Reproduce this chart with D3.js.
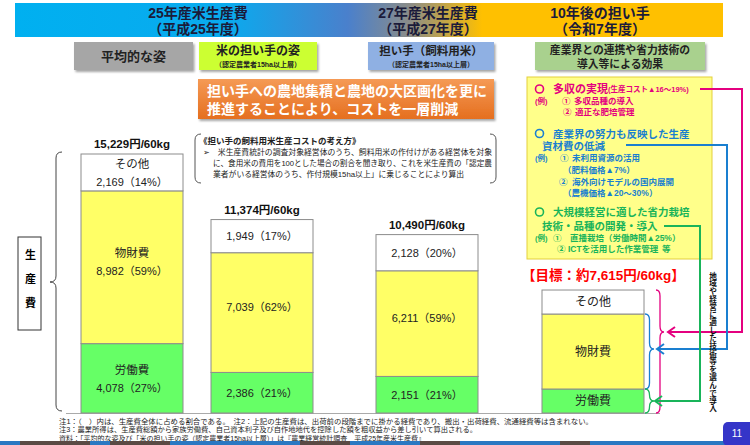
<!DOCTYPE html>
<html><head><meta charset="utf-8">
<script src="https://cdn.jsdelivr.net/npm/d3@7"></script>
<style>body{margin:0;background:#fff}svg{display:block}text{font-family:'Liberation Sans','Noto Sans CJK JP','Noto Sans CJK SC',sans-serif}</style>
</head><body><svg id="c" width="750" height="445"></svg>
<script>
// ---- data ----
const categories = ["平均的な姿", "米の担い手の姿", "担い手（飼料用米）", "10年後の担い手"];
const totals = [15229, 11374, 10490, 7615];
const laborCost = [4078, 2386, 2151, 1411];
const materialCost = [8982, 7039, 6211, 4409];
const otherCost = [2169, 1949, 2128, 1411];
const laborShare = [27, 21, 21, null];
const materialShare = [59, 62, 59, null];
const otherShare = [14, 17, 20, null];
const segmentNames = ["労働費", "物財費", "その他"];
const headerTitles = [["25年産米生産費", "（平成25年度）"], ["27年産米生産費", "（平成27年度）"], ["10年後の担い手", "（令和7年度）"]];

// ---- setup ----
const svg = d3.select("#c");
const defs = svg.append("defs");
const sh = defs.append("filter").attr("id", "sh").attr("x", "-10%").attr("y", "-20%").attr("width", "130%").attr("height", "160%");
sh.append("feDropShadow").attr("dx", 1.5).attr("dy", 2).attr("stdDeviation", 1.2).attr("flood-color", "#000").attr("flood-opacity", 0.35);
const hg = defs.append("linearGradient").attr("id", "hg").attr("x1", "0").attr("x2", "1").attr("y1", "0").attr("y2", "0");
[[0, "#00b0f0"], [0.3, "#0aaaee"], [0.47, "#4a80cc"], [0.56, "#8d8d86"], [0.66, "#ffc000"], [1, "#ffc000"]].forEach(s => hg.append("stop").attr("offset", s[0]).attr("stop-color", s[1]));
const og = defs.append("linearGradient").attr("id", "og").attr("x1", "0").attr("x2", "0").attr("y1", "0").attr("y2", "1");
og.append("stop").attr("offset", 0).attr("stop-color", "#f59a55");
og.append("stop").attr("offset", 1).attr("stop-color", "#e56f1f");

// multi-line text helper: one <text> element, one <tspan> per line/part
function block(parent, spans, attrs) {
  const t = parent.append("text").attr("dominant-baseline", "central");
  Object.entries(attrs || {}).forEach(([k, v]) => t.attr(k, v));
  spans.forEach(s => {
    const ts = t.append("tspan").attr("x", s.x).attr("y", s.y).text(s.t);
    if (s.size) ts.attr("font-size", s.size);
    if (s.fill) ts.attr("fill", s.fill);
    if (s.len) ts.attr("textLength", s.len).attr("lengthAdjust", "spacingAndGlyphs");
  });
  return t;
}

// ---- header banner ----
svg.append("rect").attr("x", 15).attr("y", 3).attr("width", 708).attr("height", 34).attr("fill", "url(#hg)");
const headerX = [198, 428, 600];
headerTitles.forEach((t, i) =>
  block(svg, t.map((s, j) => ({x: headerX[i], y: 12.5 + j * 16.5, t: s})),
    {"text-anchor": "middle", "font-size": 14, "font-weight": "bold", fill: "#1b1b3a"}));

// ---- sub header boxes ----
const subs = [
  {x: 74, w: 119, fill: "#a6a6a6", lines: [["平均的な姿", 13, 56]]},
  {x: 199, w: 118, fill: "#ccff33", lines: [["米の担い手の姿", 12, 51], ["（認定農業者15ha以上層）", 7, 64]]},
  {x: 368, w: 126, fill: "#8fb0e3", lines: [["担い手（飼料用米）", 11.5, 51], ["（認定農業者15ha以上層）", 7, 64]]},
  {x: 535, w: 170, fill: "#a9d18e", lines: [["産業界との連携や省力技術の", 10.8, 49.5], ["導入等による効果", 10.8, 63.5]]}
];
subs.forEach(b => {
  svg.append("rect").attr("x", b.x).attr("y", 42).attr("width", b.w).attr("height", 28).attr("fill", b.fill).attr("filter", "url(#sh)");
  block(svg, b.lines.map(l => ({x: b.x + b.w / 2, y: l[2], t: l[0], size: l[1]})),
    {"text-anchor": "middle", "font-weight": "bold", fill: "#222"});
});

// ---- orange message ----
svg.append("rect").attr("x", 198).attr("y", 79).attr("width", 296).attr("height", 40).attr("fill", "url(#og)").attr("filter", "url(#sh)");
block(svg, ["担い手への農地集積と農地の大区画化を更に", "推進することにより、コストを一層削減"].map((s, j) => ({x: 207, y: 91 + j * 18, t: s})),
  {"font-size": 14, "font-weight": "bold", fill: "#fff"});

// ---- note box ----
svg.append("path").attr("d", "M201,134 Q195,134 195,140 L195,177 Q195,183 201,183").attr("fill", "none").attr("stroke", "#555").attr("stroke-width", 1);
svg.append("path").attr("d", "M490,134 Q496,134 496,140 L496,177 Q496,183 490,183").attr("fill", "none").attr("stroke", "#555").attr("stroke-width", 1);
block(svg, [
  {x: 199, y: 141, t: "《担い手の飼料用米生産コストの考え方》", size: 8.5},
  {x: 203, y: 152, t: "➢　米生産費統計の調査対象経営体のうち、飼料用米の作付けがある経営体を対象", size: 7.8, len: 289},
  {x: 213, y: 163, t: "に、食用米の費用を100とした場合の割合を聞き取り、これを米生産費の「認定農", size: 7.8, len: 279},
  {x: 213, y: 174, t: "業者がいる経営体のうち、作付規模15ha以上」に乗じることにより算出", size: 7.8}
], {fill: "#222", "font-weight": "bold"}).selectAll("tspan").filter((d, i) => i > 0).attr("font-weight", "normal");

// ---- yellow effects box ----
svg.append("rect").attr("x", 527).attr("y", 77).attr("width", 185).attr("height", 182).attr("fill", "#ffff8a").attr("stroke", "#e3cf3c").attr("stroke-width", 1);
const MAG = "#e4007f", BLU = "#1a7fd0", GRN = "#19b45a";
const X0 = 535;
const effGroups = [
  {c: MAG, bulletY: 89, spans: [
    [18, 89, "多収の実現", 11], [73, 89, "(生産コスト▲16〜19%)", 7.5],
    [0, 101, "(例)", 7.5], [27, 101, "①", 8.5], [39, 101, "多収品種の導入", 8.5],
    [28, 112, "②", 8.5], [40, 112, "適正な肥培管理", 8.5]]},
  {c: BLU, bulletY: 133.5, spans: [
    [18, 133.5, "産業界の努力も反映した生産", 10.5],
    [7, 146, "資材費の低減", 10.5],
    [0, 158, "(例)", 7.5], [25, 158, "①", 8.5], [37, 158, "未利用資源の活用", 8.5],
    [28, 170, "（肥料価格▲7%）", 8.5],
    [24, 182, "②", 8.5], [37, 182, "海外向けモデルの国内展開", 8.5],
    [28, 193, "（農機価格▲20〜30%）", 8.5]]},
  {c: GRN, bulletY: 212, spans: [
    [18, 212, "大規模経営に適した省力栽培", 10.5],
    [7, 226, "技術・品種の開発・導入", 10.5],
    [0, 238, "(例)", 7.5], [18, 238, "①", 8.5], [35, 238, "直播栽培（労働時間▲25%）", 8.5],
    [22, 249, "②", 8.5], [33, 249, "ICTを活用した作業管理", 8.5], [127, 249, "等", 8.5]]}
];
effGroups.forEach(g => {
  svg.append("circle").attr("cx", X0 + 4.5).attr("cy", g.bulletY).attr("r", 4).attr("fill", "none").attr("stroke", g.c).attr("stroke-width", 1.6);
  block(svg, g.spans.map(s => ({x: X0 + s[0], y: s[1], t: s[2], size: s[3]})), {fill: g.c, "font-weight": "bold"});
});

// ---- bars ----
const y = d3.scaleLinear().domain([0, totals[0]]).range([413, 154]);
const xc = d3.scaleOrdinal().domain(categories).range([132, 262, 427, 593]);
const barW = 102;
const rows = categories.map((c, i) => ({cat: c, i, "労働費": laborCost[i], "物財費": materialCost[i], "その他": otherCost[i]}));
const stacked = d3.stack().keys(segmentNames)(rows);
const segFill = {"労働費": "#66ff66", "物財費": "#ffff66", "その他": "#ffffff"};
const shares = {"労働費": laborShare, "物財費": materialShare, "その他": otherShare};
const costs = {"労働費": laborCost, "物財費": materialCost, "その他": otherCost};
const showName = [true, false, false, true];
const fmt = d3.format(",");

// baseline
svg.append("line").attr("x1", 66).attr("x2", 660).attr("y1", 413.5).attr("y2", 413.5).attr("stroke", "#aaa").attr("stroke-width", 1);

stacked.forEach(layer => {
  const key = layer.key;
  svg.append("g").selectAll("rect").data(layer).join("rect")
    .attr("x", d => xc(d.data.cat) - barW / 2).attr("width", barW)
    .attr("y", d => y(d[1])).attr("height", d => y(d[0]) - y(d[1]))
    .attr("fill", segFill[key]).attr("stroke", "#8c8c8c").attr("stroke-width", 1);
  layer.forEach(d => {
    const i = d.data.i, cx = xc(d.data.cat);
    let mid = (y(d[0]) + y(d[1])) / 2;
    const hasVal = shares[key][i] != null;
    if (key === "物財費" && hasVal) mid -= 6;
    const valStr = hasVal ? fmt(costs[key][i]) + "（" + shares[key][i] + "%）" : null;
    let spans;
    if (showName[i] && hasVal) spans = [{x: cx, y: mid - 8, t: key, size: 11.5}, {x: cx, y: mid + 10, t: valStr, size: 11}];
    else if (showName[i]) spans = [{x: cx, y: mid, t: key, size: 12}];
    else spans = [{x: cx, y: mid, t: valStr, size: 11}];
    block(svg, spans, {fill: "#222", "text-anchor": "middle"});
  });
});

// totals labels
totals.forEach((t, i) => {
  if (i < 3) {
    svg.append("text").attr("x", xc(categories[i])).attr("y", y(t) - 10).attr("text-anchor", "middle").attr("dominant-baseline", "central")
      .attr("font-size", 11.5).attr("font-weight", "bold").attr("fill", "#111").text(fmt(t) + "円/60kg");
  } else {
    svg.append("text").attr("x", 522).attr("y", 275).attr("dominant-baseline", "central")
      .attr("font-size", 13.5).attr("font-weight", "bold").attr("fill", "#ff0000").text("【目標：約" + fmt(t) + "円/60kg】");
  }
});

// ---- braces ----
function brace(tipX, y0, y1, ym, w) {
  const h = tipX + w / 2, e = tipX + w, r = Math.min(6, (ym - y0) / 2, (y1 - ym) / 2);
  return `M${e},${y0} Q${h},${y0} ${h},${y0 + r} L${h},${ym - r} Q${h},${ym} ${tipX},${ym} Q${h},${ym} ${h},${ym + r} L${h},${y1 - r} Q${h},${y1} ${e},${y1}`;
}
svg.append("path").attr("d", brace(50, 152, 411, 282, 12)).attr("fill", "none").attr("stroke", "#444").attr("stroke-width", 1);
// 生産費 label
svg.append("rect").attr("x", 18).attr("y", 237).attr("width", 23).attr("height", 93).attr("fill", "#fff").attr("stroke", "#333");
svg.append("text").attr("x", 29.5).attr("y", 249).attr("text-anchor", "start")
  .style("writing-mode", "vertical-rl").attr("letter-spacing", 13).attr("font-size", 11).attr("font-weight", "bold").text("生産費");

const b4 = stacked.map(l => l[3]);
svg.append("path").attr("d", brace(664, y(b4[2][1]), y(0), 332, -8)).attr("fill", "none").attr("stroke", MAG).attr("stroke-width", 1.3);
svg.append("path").attr("d", brace(654, y(b4[1][1]), y(b4[1][0]), 349, -9)).attr("fill", "none").attr("stroke", BLU).attr("stroke-width", 1.3);
svg.append("path").attr("d", brace(654, y(b4[0][1]), y(0), 401, -9)).attr("fill", "none").attr("stroke", GRN).attr("stroke-width", 1.3);

// ---- connector arrows ----
const arrows = [
  {c: MAG, d: "M700,89 H742 V332 H668", tip: 668, y: 332},
  {c: BLU, d: "M626,145 H727 V349 H657", tip: 657, y: 349},
  {c: GRN, d: "M664,226 H700 V401 H655", tip: 655, y: 401}
];
arrows.forEach(a => {
  svg.append("path").attr("d", a.d).attr("fill", "none").attr("stroke", a.c).attr("stroke-width", 2);
  svg.append("path").attr("d", `M${a.tip + 7},${a.y - 5} L${a.tip},${a.y} L${a.tip + 7},${a.y + 5}`).attr("fill", "none").attr("stroke", a.c).attr("stroke-width", 2);
});

// vertical text
svg.append("text").attr("x", 712).attr("y", 272).attr("text-anchor", "start")
  .style("writing-mode", "vertical-rl").attr("font-size", 7.6).attr("letter-spacing", 0.2)
  .attr("font-weight", "bold").attr("fill", "#111").text("地域や経営に適した技術等を選んで導入");

// ---- footnotes ----
block(svg, [
  {x: 59, y: 420.5, t: "注1：（　）内は、生産費全体に占める割合である。　注2：上記の生産費は、出荷前の段階までに掛かる経費であり、搬出・出荷経費、流通経費等は含まれない。", len: 534},
  {x: 59, y: 429, t: "注3：農業所得は、生産費総額から家族労働費、自己資本利子及び自作地地代を控除した額を粗収益から差し引いて算出される。", len: 418},
  {x: 59, y: 437.5, t: "資料：「平均的な姿及び「米の担い手の姿（認定農業者15ha以上層）」は『農業経営統計調査　平成25年産米生産費』", len: 366}
], {"font-size": 6.8, fill: "#222"});

// bottom strip & page number
svg.append("rect").attr("x", 0).attr("y", 441).attr("width", 750).attr("height", 4).attr("fill", "#2a78c2");
[[20, 70], [110, 60], [300, 50], [420, 40], [560, 30]].forEach(s => svg.append("rect").attr("x", s[0]).attr("y", 441).attr("width", s[1]).attr("height", 4).attr("fill", "#5a4a44"));
svg.append("rect").attr("x", 723).attr("y", 422).attr("width", 34).attr("height", 24).attr("rx", 5).attr("fill", "#3535c8");
svg.append("text").attr("x", 737).attr("y", 433).attr("text-anchor", "middle").attr("dominant-baseline", "central").attr("font-size", 10).attr("fill", "#fff").text("11");
</script></body></html>
